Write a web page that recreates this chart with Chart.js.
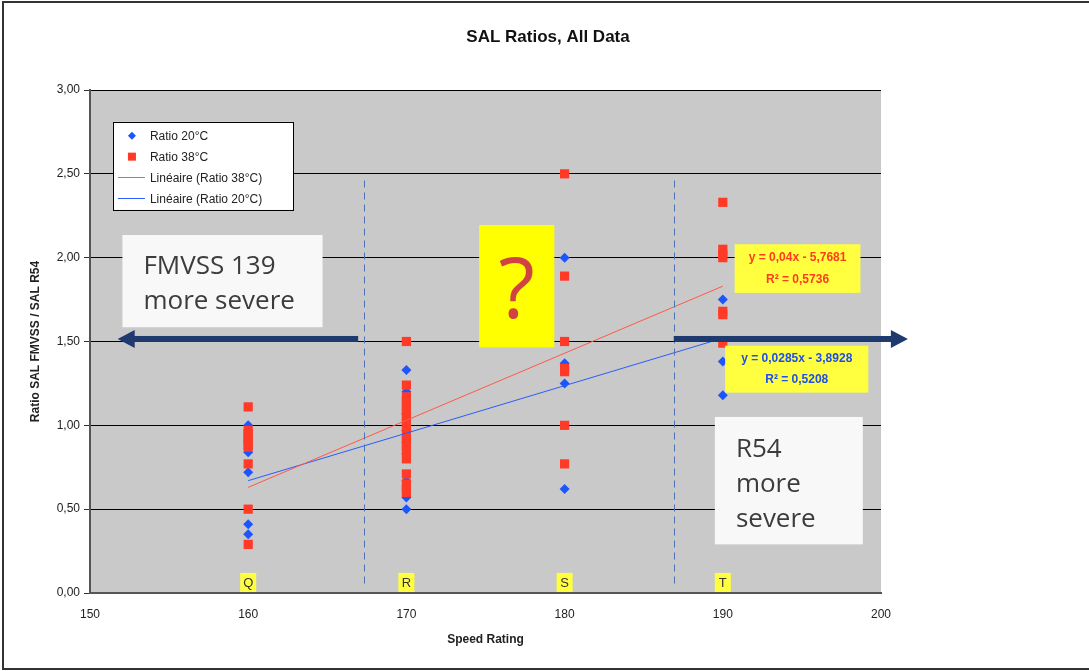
<!DOCTYPE html>
<html>
<head>
<meta charset="utf-8">
<script src="https://cdn.jsdelivr.net/npm/chart.js@4/dist/chart.umd.min.js"></script>
<style>
  body { margin: 0; background: #fff; }
  #wrap { width: 1089px; height: 671px; position: relative; }
</style>
</head>
<body>
<div id="wrap"><canvas id="salChart"></canvas></div>
<script>
// données
const speeds = [160, 170, 180, 190];
const speedLetters = ["Q", "R", "S", "T"];
const ratio20 = [
    [1.00, 0.97, 0.93, 0.90, 0.86, 0.84, 0.72, 0.41, 0.35],
    [1.33, 1.20, 1.07, 0.97, 0.90, 0.83, 0.67, 0.57, 0.50],
    [2.00, 1.37, 1.25, 0.62],
    [1.75, 1.38, 1.18]
];
const ratio38 = [
    [1.11, 0.97, 0.95, 0.93, 0.91, 0.89, 0.87, 0.77, 0.50, 0.29],
    [1.50, 1.24, 1.17, 1.14, 1.11, 1.08, 1.05, 1.02, 0.99, 0.94, 0.91, 0.88, 0.85, 0.80, 0.71, 0.65, 0.62, 0.60],
    [2.50, 1.89, 1.50, 1.34, 1.32, 1.00, 0.77],
    [2.33, 2.05, 2.02, 2.00, 1.68, 1.66, 1.49]
];
// droites de tendance (extrémités à 160 et 190)
const trendX = [160, 190];
const trend38 = [0.63, 1.83];
const trend20 = [0.67, 1.52];
const eq38 = ["y = 0,04x - 5,7681", "R² = 0,5736"];
const eq20 = ["y = 0,0285x - 3,8928", "R² = 0,5208"];
const yTicks = [0, 0.5, 1, 1.5, 2, 2.5, 3];
const dividers = [167.3, 186.9];
const chartTitle = "SAL Ratios, All Data";

const BLUE = "#1b55ff";
const RED = "#ff3b28";
const FONT = "'Liberation Sans', Arial, sans-serif";
const BOXFONT = "'Open Sans', sans-serif";

const toPoints = (groups) => groups.flatMap((vals, i) => vals.map(v => ({ x: speeds[i], y: v })));
const toLine = (ys) => ys.map((v, i) => ({ x: trendX[i], y: v }));

// dessins additionnels (fond, titre, zones de texte, flèches, légende)
const overlay = {
    id: "overlay",
    beforeDraw(chart) {
        const { ctx, chartArea: a } = chart;
        ctx.save();
        ctx.fillStyle = "#c9c9c9";
        ctx.fillRect(a.left, a.top, a.right - a.left, a.bottom - a.top);
        // titre
        ctx.fillStyle = "#111";
        ctx.font = "bold 17px " + FONT;
        ctx.textAlign = "center";
        ctx.textBaseline = "middle";
        ctx.fillText(chartTitle, 548, 37);
        ctx.restore();
    },
    afterDatasetsDraw(chart) {
        const { ctx, scales } = chart;
        const X = v => scales.x.getPixelForValue(v);
        const Y = v => scales.y.getPixelForValue(v);
        ctx.save();

        // lignes verticales pointillées
        ctx.strokeStyle = "#4a72b5";
        ctx.lineWidth = 1;
        ctx.setLineDash([7, 5]);
        dividers.forEach(d => {
            ctx.beginPath();
            ctx.moveTo(Math.round(X(d)) + 0.5, Y(2.46));
            ctx.lineTo(Math.round(X(d)) + 0.5, Y(0.05));
            ctx.stroke();
        });
        ctx.setLineDash([]);

        // lettres Q R S T
        ctx.font = "13px " + FONT;
        ctx.textAlign = "center";
        ctx.textBaseline = "middle";
        speeds.forEach((s, i) => {
            const cx = X(s), cy = Y(0.066);
            ctx.fillStyle = "#ffff40";
            ctx.fillRect(cx - 8, cy - 9, 16, 19);
            ctx.fillStyle = "#333";
            ctx.fillText(speedLetters[i], cx, cy + 1);
        });

        // boîtes blanches
        const textBox = (x1, y1, x2, y2, lines, dx, dy) => {
            const l = X(x1), t = Y(y1);
            ctx.fillStyle = "#f8f8f8";
            ctx.fillRect(l, t, X(x2) - l, Y(y2) - t);
            ctx.fillStyle = "#3c3c3c";
            ctx.font = "26px " + BOXFONT;
            ctx.textAlign = "left";
            ctx.textBaseline = "alphabetic";
            lines.forEach((s, i) => ctx.fillText(s, l + dx, t + dy + i * 35));
        };
        textBox(152.05, 2.135, 164.7, 1.585, ["FMVSS 139", "more severe"], 21, 39);
        textBox(189.5, 1.05, 198.85, 0.29, ["R54", "more", "severe"], 21, 40);

        // boîte jaune "?"
        {
            const l = X(174.6), t = Y(2.195);
            const w = X(179.35) - l, h = Y(1.465) - t;
            ctx.fillStyle = "#ffff00";
            ctx.fillRect(l, t, w, h);
            ctx.fillStyle = "#d14343";
            ctx.font = "84px " + BOXFONT;
            ctx.textAlign = "center";
            ctx.textBaseline = "alphabetic";
            ctx.fillText("?", l + w / 2, t + 93);
        }

        // équations
        const eqBox = (x1, y1, x2, y2, lines, color) => {
            const l = X(x1), t = Y(y1);
            const w = X(x2) - l, h = Y(y2) - t;
            ctx.fillStyle = "#ffff40";
            ctx.fillRect(l, t, w, h);
            ctx.fillStyle = color;
            ctx.font = "bold 12px " + FONT;
            ctx.textAlign = "center";
            ctx.textBaseline = "middle";
            ctx.fillText(lines[0], l + w / 2, t + h * 0.28);
            ctx.fillText(lines[1], l + w / 2, t + h * 0.72);
        };
        eqBox(190.75, 2.08, 198.7, 1.79, eq38, "#ff3b1c");
        eqBox(190.15, 1.475, 199.2, 1.195, eq20, "#1f4fe8");

        // flèches
        const arrow = (from, to, y) => {
            const x0 = X(from), x1 = X(to), py = Y(y);
            const dir = Math.sign(x1 - x0);
            ctx.fillStyle = "#1f3a6e";
            ctx.fillRect(Math.min(x0, x1 - dir * 15), py - 3, Math.abs(x1 - dir * 15 - x0), 6);
            ctx.beginPath();
            ctx.moveTo(x1, py);
            ctx.lineTo(x1 - dir * 17, py - 9);
            ctx.lineTo(x1 - dir * 17, py + 9);
            ctx.closePath();
            ctx.fill();
        };
        arrow(166.95, 151.75, 1.515);
        arrow(186.9, 201.7, 1.515);

        // légende
        {
            const l = X(151.45), t = Y(2.81);
            const w = X(162.83) - l, h = Y(2.285) - t;
            ctx.fillStyle = "#fff";
            ctx.fillRect(l, t, w, h);
            ctx.strokeStyle = "#000";
            ctx.lineWidth = 1;
            ctx.strokeRect(Math.round(l) + 0.5, Math.round(t) + 0.5, Math.round(w), Math.round(h));
            const items = [
                ["diamond", BLUE, "Ratio 20°C"],
                ["square", RED, "Ratio 38°C"],
                ["line", "#ff5a48", "Linéaire (Ratio 38°C)"],
                ["line", "#2a5cff", "Linéaire (Ratio 20°C)"]
            ];
            ctx.font = "12px " + FONT;
            ctx.textAlign = "left";
            ctx.textBaseline = "middle";
            items.forEach(([kind, color, label], i) => {
                const cy = t + 14 + i * 20.8, mx = l + 19;
                ctx.fillStyle = color;
                ctx.strokeStyle = color;
                if (kind === "diamond") {
                    ctx.beginPath();
                    ctx.moveTo(mx, cy - 4); ctx.lineTo(mx + 4, cy);
                    ctx.lineTo(mx, cy + 4); ctx.lineTo(mx - 4, cy);
                    ctx.closePath(); ctx.fill();
                } else if (kind === "square") {
                    ctx.fillRect(mx - 4, cy - 4, 8, 8);
                } else {
                    ctx.beginPath();
                    ctx.moveTo(l + 5, Math.round(cy) + 0.5);
                    ctx.lineTo(l + 32, Math.round(cy) + 0.5);
                    ctx.stroke();
                }
                ctx.fillStyle = "#222";
                ctx.fillText(label, l + 37, cy + 1);
            });
        }
        ctx.restore();
    },
    afterDraw(chart) {
        // cadre extérieur
        const { ctx } = chart;
        ctx.save();
        ctx.strokeStyle = "#333";
        ctx.lineWidth = 2;
        ctx.beginPath();
        ctx.moveTo(1100, 2); ctx.lineTo(3, 2); ctx.lineTo(3, 669); ctx.lineTo(1100, 669);
        ctx.stroke();
        ctx.restore();
    }
};

const ctx = document.getElementById("salChart").getContext("2d");
new Chart(ctx, {
    type: "scatter",
    data: {
        datasets: [
            {
                type: "line", label: "Linéaire (Ratio 38°C)", data: toLine(trend38),
                borderColor: "#ff5a48", borderWidth: 1, pointRadius: 0, order: 0
            },
            {
                type: "line", label: "Linéaire (Ratio 20°C)", data: toLine(trend20),
                borderColor: "#2a5cff", borderWidth: 1, pointRadius: 0, order: 1
            },
            {
                label: "Ratio 38°C", data: toPoints(ratio38), pointStyle: "rect",
                pointRadius: 6.5, backgroundColor: RED, borderWidth: 0, order: 2
            },
            {
                label: "Ratio 20°C", data: toPoints(ratio20), pointStyle: "rectRot",
                pointRadius: 5, backgroundColor: BLUE, borderWidth: 0, order: 3
            }
        ]
    },
    options: {
        responsive: true,
        maintainAspectRatio: false,
        animation: false,
        layout: { padding: { left: 20, right: 208, top: 90, bottom: 18 } },
        plugins: {
            legend: { display: false },
            tooltip: { enabled: false },
            title: { display: false }
        },
        scales: {
            x: {
                type: "linear", min: 150, max: 200,
                ticks: { stepSize: 10, color: "#222", font: { family: FONT, size: 12 }, padding: 6 },
                grid: { display: false },
                border: { color: "#555", width: 2 },
                title: {
                    display: true, text: "Speed Rating", color: "#222",
                    font: { family: FONT, size: 12, weight: "bold" }, padding: { bottom: 6 }
                },
                afterFit(s) { s.height = 60; }
            },
            y: {
                min: 0, max: 3,
                afterBuildTicks(s) { s.ticks = yTicks.map(v => ({ value: v })); },
                ticks: {
                    color: "#222", font: { family: FONT, size: 12 }, padding: 4,
                    callback: v => v.toFixed(2).replace(".", ",")
                },
                grid: { color: "#000", lineWidth: 1, tickLength: 6, tickColor: "#333" },
                border: { color: "#555", width: 2 },
                title: {
                    display: true, text: "Ratio SAL FMVSS / SAL R54", color: "#222",
                    font: { family: FONT, size: 12, weight: "bold" }, padding: { top: 8 }
                },
                afterFit(s) { s.width = 70; }
            }
        }
    },
    plugins: [overlay]
});
</script>
</body>
</html>
